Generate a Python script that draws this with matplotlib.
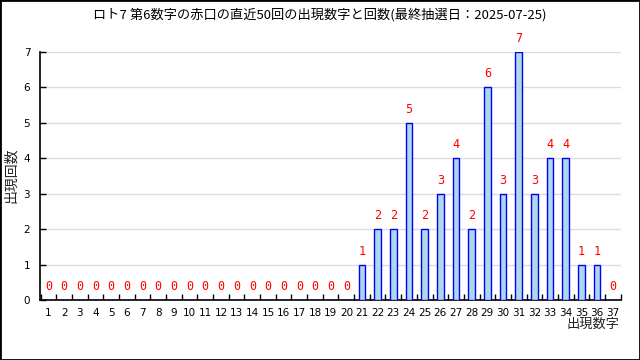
import matplotlib
matplotlib.use("Agg")
import matplotlib.pyplot as plt
from matplotlib.patches import Rectangle

numbers = list(range(1, 38))
counts = [0]*20 + [1, 2, 2, 5, 2, 3, 4, 2, 6, 3, 7, 3, 4, 4, 1, 1, 0]
title = "ロト7 第6数字の赤口の直近50回の出現数字と回数(最終抽選日：2025-07-25)"
xlabel = "出現数字"
ylabel = "出現回数"

cjk = ["Noto Sans CJK JP", "DejaVu Sans"]

fig = plt.figure(figsize=(6.4, 3.6), dpi=100)
fig.patches.append(Rectangle((0, 0), 1, 1, transform=fig.transFigure, fill=False,
                             edgecolor="black", linewidth=2.0, zorder=10))
ax = fig.add_axes([40/640, 60/360, 581/640, 248/360])

ax.bar(numbers, counts, width=0.42, color="#add8e6", edgecolor="#0000ff", linewidth=1.0, zorder=3)
for n, c in zip(numbers, counts):
    ax.annotate(str(c), (n, c), xytext=(0, 5), textcoords="offset points",
                ha="center", va="bottom", color="#ff0000", fontsize=8.5,
                family="DejaVu Sans Mono", annotation_clip=False)

ax.set_xlim(0.45, 37.53)
ax.set_ylim(0, 7)
ax.set_yticks(range(0, 8))
ax.yaxis.grid(True, color="#dcdcdc", linewidth=1.0, zorder=0)
ax.set_axisbelow(True)
ax.set_xticks(numbers)
ax.set_xticklabels([str(n) for n in numbers])
ax.set_xticks([n + 0.5 for n in range(0, 38)], minor=True)
ax.tick_params(axis="x", which="major", length=0, pad=6, labelsize=7.5)
ax.tick_params(axis="x", which="minor", direction="in", length=4, width=1)
ax.tick_params(axis="y", direction="in", length=4, width=1, pad=7, labelsize=7.5)
for s in ["top", "right"]:
    ax.spines[s].set_visible(False)
for s in ["left", "bottom"]:
    ax.spines[s].set_linewidth(1.2)

fig.text(0.5, 1 - 15/360, title, ha="center", va="center", fontsize=9.5, family=cjk)
fig.text(11/640, 1 - 175/360, ylabel, rotation=90, ha="center", va="center",
         fontsize=10, family=cjk, color="#222222")
fig.text(620/640, 1 - 324/360, xlabel, ha="right", va="center", fontsize=9.5,
         family=cjk, color="#222222")

fig.savefig("out.png", dpi=100)
